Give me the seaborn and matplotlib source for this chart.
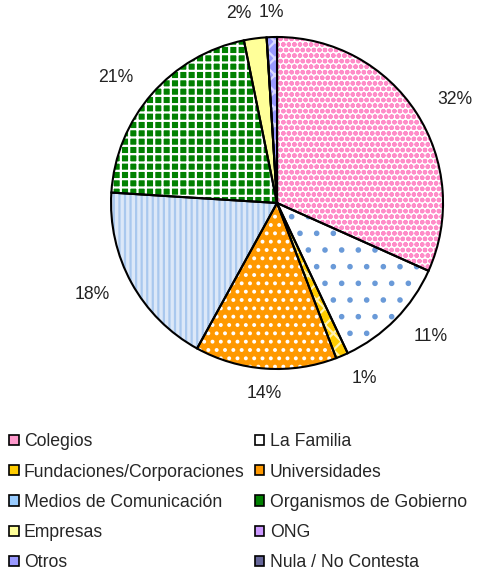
import matplotlib
matplotlib.use('Agg')
import matplotlib.pyplot as plt
from matplotlib.patches import Patch
import numpy as np
import seaborn as sns

categorias = ['Colegios', 'La Familia', 'Fundaciones/Corporaciones', 'Universidades',
              'Medios de Comunicación', 'Organismos de Gobierno', 'Empresas', 'ONG',
              'Otros', 'Nula / No Contesta']
porcentajes = [31.7, 11.3, 1.2, 13.8, 18.0, 20.8, 2.2, 0.0, 1.0, 0.0]

colores_fondo = ['#FFFFFF', '#FFFFFF', '#FFCC00', '#FF9900', '#DCE8F8',
                 '#008000', '#FFFF99', '#CC99FF', '#9999FF', '#666699']
colores_trama = ['#FF8CC8', '#6A9AD8', '#FFF2B0', '#FFFFFF', '#A9C8EE',
                 '#FFFFFF', '#FFFF99', '#FFFFFF', '#D8D8FF', '#666699']
tramas = ['ooo', '.', 'xx', '..', '|||', '++', '', '', 'xx', '']
colores_leyenda = ['#FF99CC', '#FFFFFF', '#FFCC00', '#FF9900', '#99CCFF',
                   '#008000', '#FFFF99', '#CC99FF', '#9999FF', '#666699']

sns.set_theme(style='white')
plt.rcParams['font.family'] = ['Liberation Sans', 'DejaVu Sans']
plt.rcParams['hatch.linewidth'] = 1.6
TAM = 12.7

fig = plt.figure(figsize=(4.8, 5.72), dpi=100)
ax = fig.add_axes([0.2313, 0.3549, 0.6917, 0.5804])

# primera pasada: relleno con tramas
cunas, _ = ax.pie(porcentajes, startangle=90, counterclock=False, radius=1.0,
                  colors=colores_fondo, wedgeprops=dict(linewidth=0))
for cuna, trama, ctrama in zip(cunas, tramas, colores_trama):
    cuna.set_hatch(trama)
    cuna.set_edgecolor(ctrama)

# segunda pasada: bordes negros
bordes, _ = ax.pie(porcentajes, startangle=90, counterclock=False, radius=1.0,
                   colors=['none'] * len(porcentajes),
                   wedgeprops=dict(linewidth=1.5, edgecolor='black', fill=False))

# etiquetas de porcentaje, ancladas por fuera como en Excel
for cuna, p in zip(bordes, porcentajes):
    if p <= 0.5:
        continue
    ang = np.deg2rad((cuna.theta1 + cuna.theta2) / 2)
    x, y = 1.15 * np.cos(ang), 1.15 * np.sin(ang)
    ha = 'center' if abs(np.cos(ang)) < 0.1 else ('left' if x > 0 else 'right')
    ax.text(x, y, f'{p:.0f}%', ha=ha, va='center', fontsize=TAM, color='#222222')

ax.set_xlim(-1, 1)
ax.set_ylim(-1, 1)
ax.set_aspect('equal')
ax.axis('off')

manijas = [Patch(facecolor=c, edgecolor='black', linewidth=1.2) for c in colores_leyenda]
orden = [0, 2, 4, 6, 8, 1, 3, 5, 7, 9]
fig.legend([manijas[i] for i in orden], [categorias[i] for i in orden],
           ncol=2, loc='upper left', bbox_to_anchor=(0.005, 0.255), frameon=False,
           fontsize=TAM, handlelength=0.52, handleheight=0.52, handletextpad=0.3,
           labelspacing=0.755, columnspacing=0.6, borderaxespad=0)

fig.savefig('out.png', dpi=100, facecolor='white')
